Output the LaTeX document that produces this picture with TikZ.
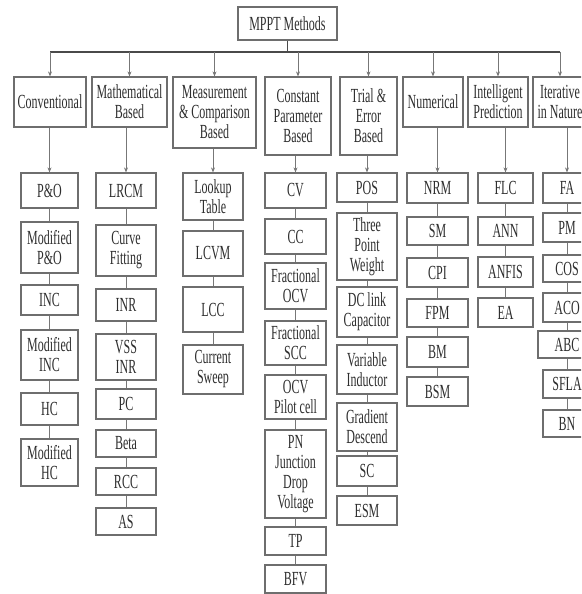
\documentclass[tikz,border=0pt]{standalone}
\usepackage{fontspec}
\setmainfont{Liberation Serif}[FakeStretch=0.6]
\usepackage{xcolor}
\usepackage{tikz}
\usetikzlibrary{arrows.meta}
\definecolor{boxgray}{HTML}{6E6E6E}
\definecolor{linegray}{HTML}{777777}
\definecolor{busgray}{HTML}{4A4A4A}
\definecolor{txtgray}{HTML}{2E2E2E}

\begin{document}
\begin{tikzpicture}[x=1pt, y=-1pt,
    box/.style={draw=boxgray, line width=1.2pt, align=center, inner sep=1pt, text=txtgray, font=\fontsize{20}{20}\selectfont},
    link/.style={draw=linegray, line width=0.7pt},
    arr/.style={link, -{Stealth[length=5pt, width=4pt]}},
    bus/.style={draw=busgray, line width=1.6pt}]
        \useasboundingbox (0,0) rectangle (581,594);
        \clip (0,0) rectangle (581,594);
        % top of the tree
        \node[box, minimum width=99pt, minimum height=33pt] (root) at (287.5,23.5) {MPPT Methods};
        \coordinate (bus) at (0,52);
        \foreach \n/\x/\y/\w/\h/\t in {c1/50/102/72/50/{Conventional}, c2/129.5/102/75/50/{Mathematical\\Based}, c3/214.5/112.5/83/71/{Measurement\\\& Comparison\\Based}, c4/298/116/66/78/{Constant\\Parameter\\Based}, c5/368.5/116/57/78/{Trial \&\\Error\\Based}, c6/433/102/60/50/{Numerical}, c7/498/102/60/50/{Intelligent\\Prediction}, c8/560/102/54/50/{Iterative\\in Nature}}
            {\node[box, minimum width=\w pt, minimum height=\h pt] (\n) at (\x,\y) {\t};}
        \draw[bus] (root.south) -- (root.south |- bus);
        \draw[bus] (c1.north |- bus) -- (c8.north |- bus);
        \foreach \n in {c1,c2,c3,c4,c5,c6,c7,c8}
            {\draw[arr] (\n.north |- bus) -- (\n.north);}
        % methods under each category
        \foreach \ya/\yb/\t [count=\i] in {173/208/{P\&O}, 222/273/{Modified\\P\&O}, 285/315/{INC}, 330/380/{Modified\\INC}, 393/425/{HC}, 439/486/{Modified\\HC}}
            {\node[box, minimum width=57pt, minimum height={\yb-\ya}] (s1-\i) at (49.5,{(\ya+\yb)/2}) {\t};}
        \foreach \ya/\yb/\t [count=\i] in {173/208/{LRCM}, 225/276/{Curve\\Fitting}, 289/321/{INR}, 334/380/{VSS\\INR}, 389/419/{PC}, 430/457/{Beta}, 468/495/{RCC}, 508/535/{AS}}
            {\node[box, minimum width=60pt, minimum height={\yb-\ya}] (s2-\i) at (126,{(\ya+\yb)/2}) {\t};}
        \foreach \ya/\yb/\t [count=\i] in {173/220/{Lookup\\Table}, 231/276/{LCVM}, 287/332/{LCC}, 345/394/{Current\\Sweep}}
            {\node[box, minimum width=60pt, minimum height={\yb-\ya}] (s3-\i) at (213,{(\ya+\yb)/2}) {\t};}
        \foreach \ya/\yb/\t [count=\i] in {173/208/{CV}, 219/254/{CC}, 263/309/{Fractional\\OCV}, 321/365/{Fractional\\SCC}, 375/419/{OCV\\Pilot cell}, 430/518/{PN\\Junction\\Drop\\Voltage}, 527/555/{TP}, 565/593/{BFV}}
            {\node[box, minimum width=61pt, minimum height={\yb-\ya}] (s4-\i) at (295.5,{(\ya+\yb)/2}) {\t};}
        \foreach \ya/\yb/\t [count=\i] in {173/202/{POS}, 213/280/{Three\\Point\\Weight}, 287/337/{DC link\\Capacitor}, 345/394/{Variable\\Inductor}, 403/451/{Gradient\\Descend}, 456/486/{SC}, 496/525/{ESM}}
            {\node[box, minimum width=60pt, minimum height={\yb-\ya}] (s5-\i) at (367,{(\ya+\yb)/2}) {\t};}
        \foreach \ya/\yb/\t [count=\i] in {173/203/{NRM}, 217/245/{SM}, 258/287/{CPI}, 299/327/{FPM}, 337/367/{BM}, 377/406/{BSM}}
            {\node[box, minimum width=61pt, minimum height={\yb-\ya}] (s6-\i) at (437.5,{(\ya+\yb)/2}) {\t};}
        \foreach \ya/\yb/\t [count=\i] in {173/203/{FLC}, 217/245/{ANN}, 257/287/{ANFIS}, 298/327/{EA}}
            {\node[box, minimum width=55pt, minimum height={\yb-\ya}] (s7-\i) at (505.5,{(\ya+\yb)/2}) {\t};}
        \foreach \ya/\yb/\w/\t [count=\i] in {173/203/48/{FA}, 213/242/48/{PM}, 255/282/48/{COS}, 293/322/48/{ACO}, 331/358/58/{ABC}, 370/398/48/{SFLA}, 410/437/48/{BN}}
            {\node[box, minimum width=\w pt, minimum height={\yb-\ya}] (s8-\i) at (567,{(\ya+\yb)/2}) {\t};}
        % arrows into each column, plain links inside it
        \foreach \c/\k in {1/6,2/8,3/4,4/8,5/7,6/6,7/4,8/7}{
            \draw[arr] (s\c-1.north |- c\c.south) -- (s\c-1.north);
            \foreach \i in {2,...,\k}{
                \pgfmathtruncatemacro{\p}{\i-1}
                \draw[link] (s\c-\p.south) -- (s\c-\i.north);
            }
        }
    \end{tikzpicture}
\end{document}
